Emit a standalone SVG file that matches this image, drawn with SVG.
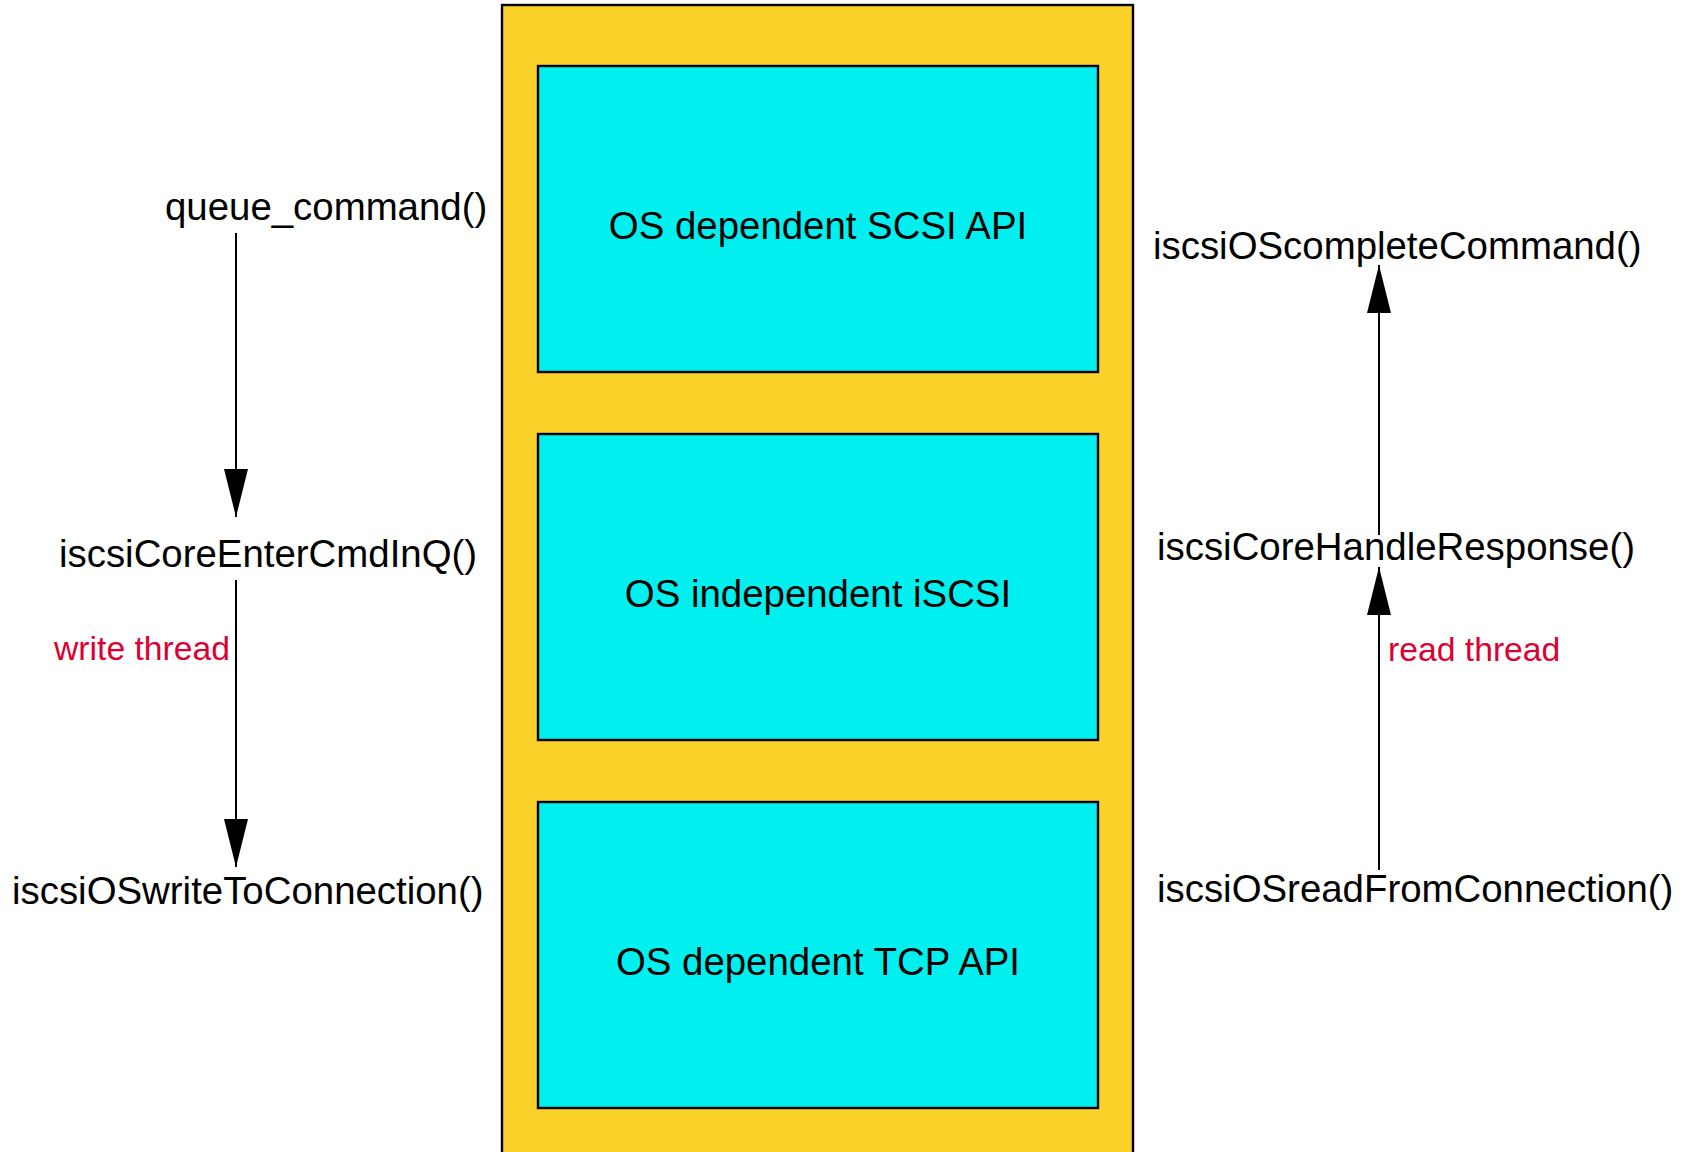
<svg xmlns="http://www.w3.org/2000/svg" width="1687" height="1152" viewBox="0 0 1687 1152">
<style>
.lbl{font-family:"Liberation Sans",Arial,sans-serif;font-size:38.4px;fill:#000}
.thr{font-family:"Liberation Sans",Arial,sans-serif;font-size:33.7px;fill:#dc0032}
.box{fill:#00f0f0;stroke:#000;stroke-width:2.4}
.edge{stroke:#000;stroke-width:2;fill:none;marker-end:url(#ah)}
</style>
<defs>
<marker id="ah" markerUnits="userSpaceOnUse" markerWidth="48" markerHeight="24" refX="48" refY="12" orient="auto">
<path d="M0,0 L48,12 L0,24 z" fill="#000"/>
</marker>
</defs>
<rect width="1687" height="1152" fill="#fff"/>
<g id="container">
<rect x="502" y="5" width="631" height="1170" fill="#fad22a" stroke="#000" stroke-width="2.4"/>
</g>
<g id="scsi-api">
<rect class="box" x="538" y="66" width="560" height="306"/>
<text class="lbl" x="818" y="239" text-anchor="middle">OS dependent SCSI API</text>
</g>
<g id="iscsi-core">
<rect class="box" x="538" y="434" width="560" height="306"/>
<text class="lbl" x="818" y="607" text-anchor="middle">OS independent iSCSI</text>
</g>
<g id="tcp-api">
<rect class="box" x="538" y="802" width="560" height="306"/>
<text class="lbl" x="818" y="975" text-anchor="middle">OS dependent TCP API</text>
</g>
<g id="queue_command"><text class="lbl" x="165" y="220">queue_command()</text></g>
<g id="enter_cmd"><text class="lbl" x="59" y="567">iscsiCoreEnterCmdInQ()</text></g>
<g id="write_conn"><text class="lbl" x="12" y="904">iscsiOSwriteToConnection()</text></g>
<g id="complete_cmd"><text class="lbl" x="1153" y="259">iscsiOScompleteCommand()</text></g>
<g id="handle_resp"><text class="lbl" x="1157" y="560">iscsiCoreHandleResponse()</text></g>
<g id="read_conn"><text class="lbl" x="1157" y="902">iscsiOSreadFromConnection()</text></g>
<g id="connectors">
<line class="edge" x1="236" y1="233" x2="236" y2="517"/>
<line class="edge" x1="236" y1="580" x2="236" y2="867"/>
<text class="thr" x="54" y="660">write thread</text>
<line class="edge" x1="1379" y1="535" x2="1379" y2="265"/>
<line class="edge" x1="1379" y1="870" x2="1379" y2="567"/>
<text class="thr" x="1388" y="661">read thread</text>
</g>
</svg>
